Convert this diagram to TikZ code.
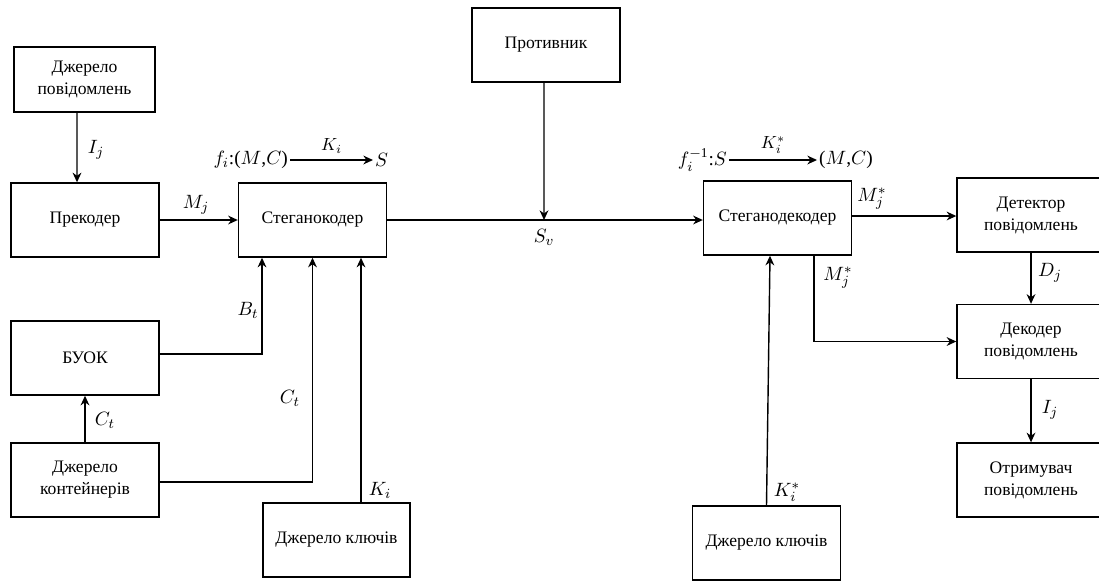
\documentclass[tikz,border=0pt]{standalone}
\usepackage{fontspec}
\setmainfont{Liberation Serif}
\usetikzlibrary{arrows.meta}
\begin{document}
\begin{tikzpicture}[boxStyle/.style={rectangle, draw, line width=0.8pt, minimum width=2.96cm, minimum height=1.48cm, align=center, font=\fontsize{10}{12.5}\selectfont}, lineStyle/.style={line width=0.8pt}, arrStyle/.style={line width=0.8pt, -{Stealth[length=5.5pt, width=5pt]}}, lblStyle/.style={font=\fontsize{11}{13}\selectfont, inner sep=1pt}]
                    \useasboundingbox (0, 0) rectangle (21.98, -11.62);

                    \node[boxStyle, minimum width=2.82cm, minimum height=1.30cm](src_msg) at (1.69, -1.59) {Джерело\\повідомлень};
                    \node[boxStyle](precoder) at (1.70, -4.40) {Прекодер};
                    \node[boxStyle](coder)    at (6.25, -4.40) {Стеганокодер};
                    \node[boxStyle](buok)     at (1.70, -7.16) {БУОК};
                    \node[boxStyle](src_cont) at (1.70, -9.60) {Джерело\\контейнерів};
                    \node[boxStyle, minimum width=2.94cm](keys_L) at (6.73, -10.80) {Джерело ключів};

                    \node[boxStyle](enemy)    at (10.92, -0.90) {Противник};

                    \node[boxStyle](decoder)  at (15.55, -4.36) {Стеганодекодер};
                    \node[boxStyle](keys_R)   at (15.33, -10.86) {Джерело ключів};
                    \node[boxStyle](detector) at (20.62, -4.30) {Детектор\\повідомлень};
                    \node[boxStyle](dec_msg)  at (20.62, -6.83) {Декодер\\повідомлень};
                    \node[boxStyle](receiver) at (20.62, -9.60) {Отримувач\\повідомлень};

                    \coordinate (S_v) at (10.88, -4.40);

                    % transmitter side
                    \draw[arrStyle] ([xshift=-0.15cm]src_msg.south) -- ([xshift=-0.16cm]precoder.north);
                    \draw[arrStyle] (precoder.east) -- (coder.west);
                    \draw[arrStyle] (src_cont.north) -- (buok.south);
                    \draw[arrStyle] ([yshift=0.08cm]buok.east) -| ([xshift=-1.01cm]coder.south);
                    \draw[arrStyle] ([yshift=-0.04cm]src_cont.east) -| (coder.south);
                    \draw[arrStyle] ([xshift=0.49cm]keys_L.north) -- ([xshift=0.97cm]coder.south);

                    % channel
                    \draw[lineStyle] (coder.east) -- (S_v);
                    \draw[arrStyle] (S_v) -- (S_v -| decoder.west);
                    \draw[arrStyle] ([xshift=-0.04cm]enemy.south) -- (S_v);

                    % receiver side
                    \draw[arrStyle] ([yshift=0.04cm]decoder.east) -- ([yshift=0.04cm]decoder.east -| detector.west);
                    \draw[arrStyle] ([xshift=0.73cm]decoder.south) |- (dec_msg.west);
                    \draw[arrStyle] (detector.south) -- (dec_msg.north);
                    \draw[arrStyle] (dec_msg.south) -- (receiver.north);
                    \draw[arrStyle] (keys_R.north) -- ([xshift=-0.15cm]decoder.south);

                    % mappings
                    \node[lblStyle, anchor=east](f_enc) at (5.80, -3.20) {$f_i$:($M$,$C$)};
                    \node[lblStyle, anchor=west](S_enc) at (7.46, -3.20) {$S$};
                    \draw[arrStyle] (f_enc.east) -- (S_enc.west) node[midway, above] {$K_i$};

                    \node[lblStyle, anchor=east](f_dec) at (14.58, -3.20) {$f_i^{\mathrm{-1}}$:$S$};
                    \node[lblStyle, anchor=west](MC_dec) at (16.34, -3.20) {($M$,$C$)};
                    \draw[arrStyle] (f_dec.east) -- (MC_dec.west) node[midway, above] {$K_i^*$};

                    % labels
                    \node[lblStyle] (l_Ij1) at (1.92, -3.00) {$I_j$};
                    \node[lblStyle] (l_Mj)  at (3.92, -4.10) {$M_j$};
                    \node[lblStyle] (l_Bt)  at (4.96, -6.20) {$B_t$};
                    \node[lblStyle] (l_Ct1) at (2.10, -8.40) {$C_t$};
                    \node[lblStyle] (l_Ct2) at (5.80, -7.96) {$C_t$};
                    \node[lblStyle] (l_Ki)  at (7.60, -9.80) {$K_i$};
                    \node[lblStyle] (l_Sv)  at (10.88, -4.74) {$S_v$};
                    \node[lblStyle] (l_Mj1) at (17.44, -3.98) {$M_j^*$};
                    \node[lblStyle] (l_Mj2) at (16.76, -5.56) {$M_j^*$};
                    \node[lblStyle] (l_Dj)  at (21.00, -5.46) {$D_j$};
                    \node[lblStyle] (l_Ij2) at (21.00, -8.20) {$I_j$};
                    \node[lblStyle] (l_Ki2) at (15.74, -9.84) {$K_i^*$};
                \end{tikzpicture}
\end{document}
